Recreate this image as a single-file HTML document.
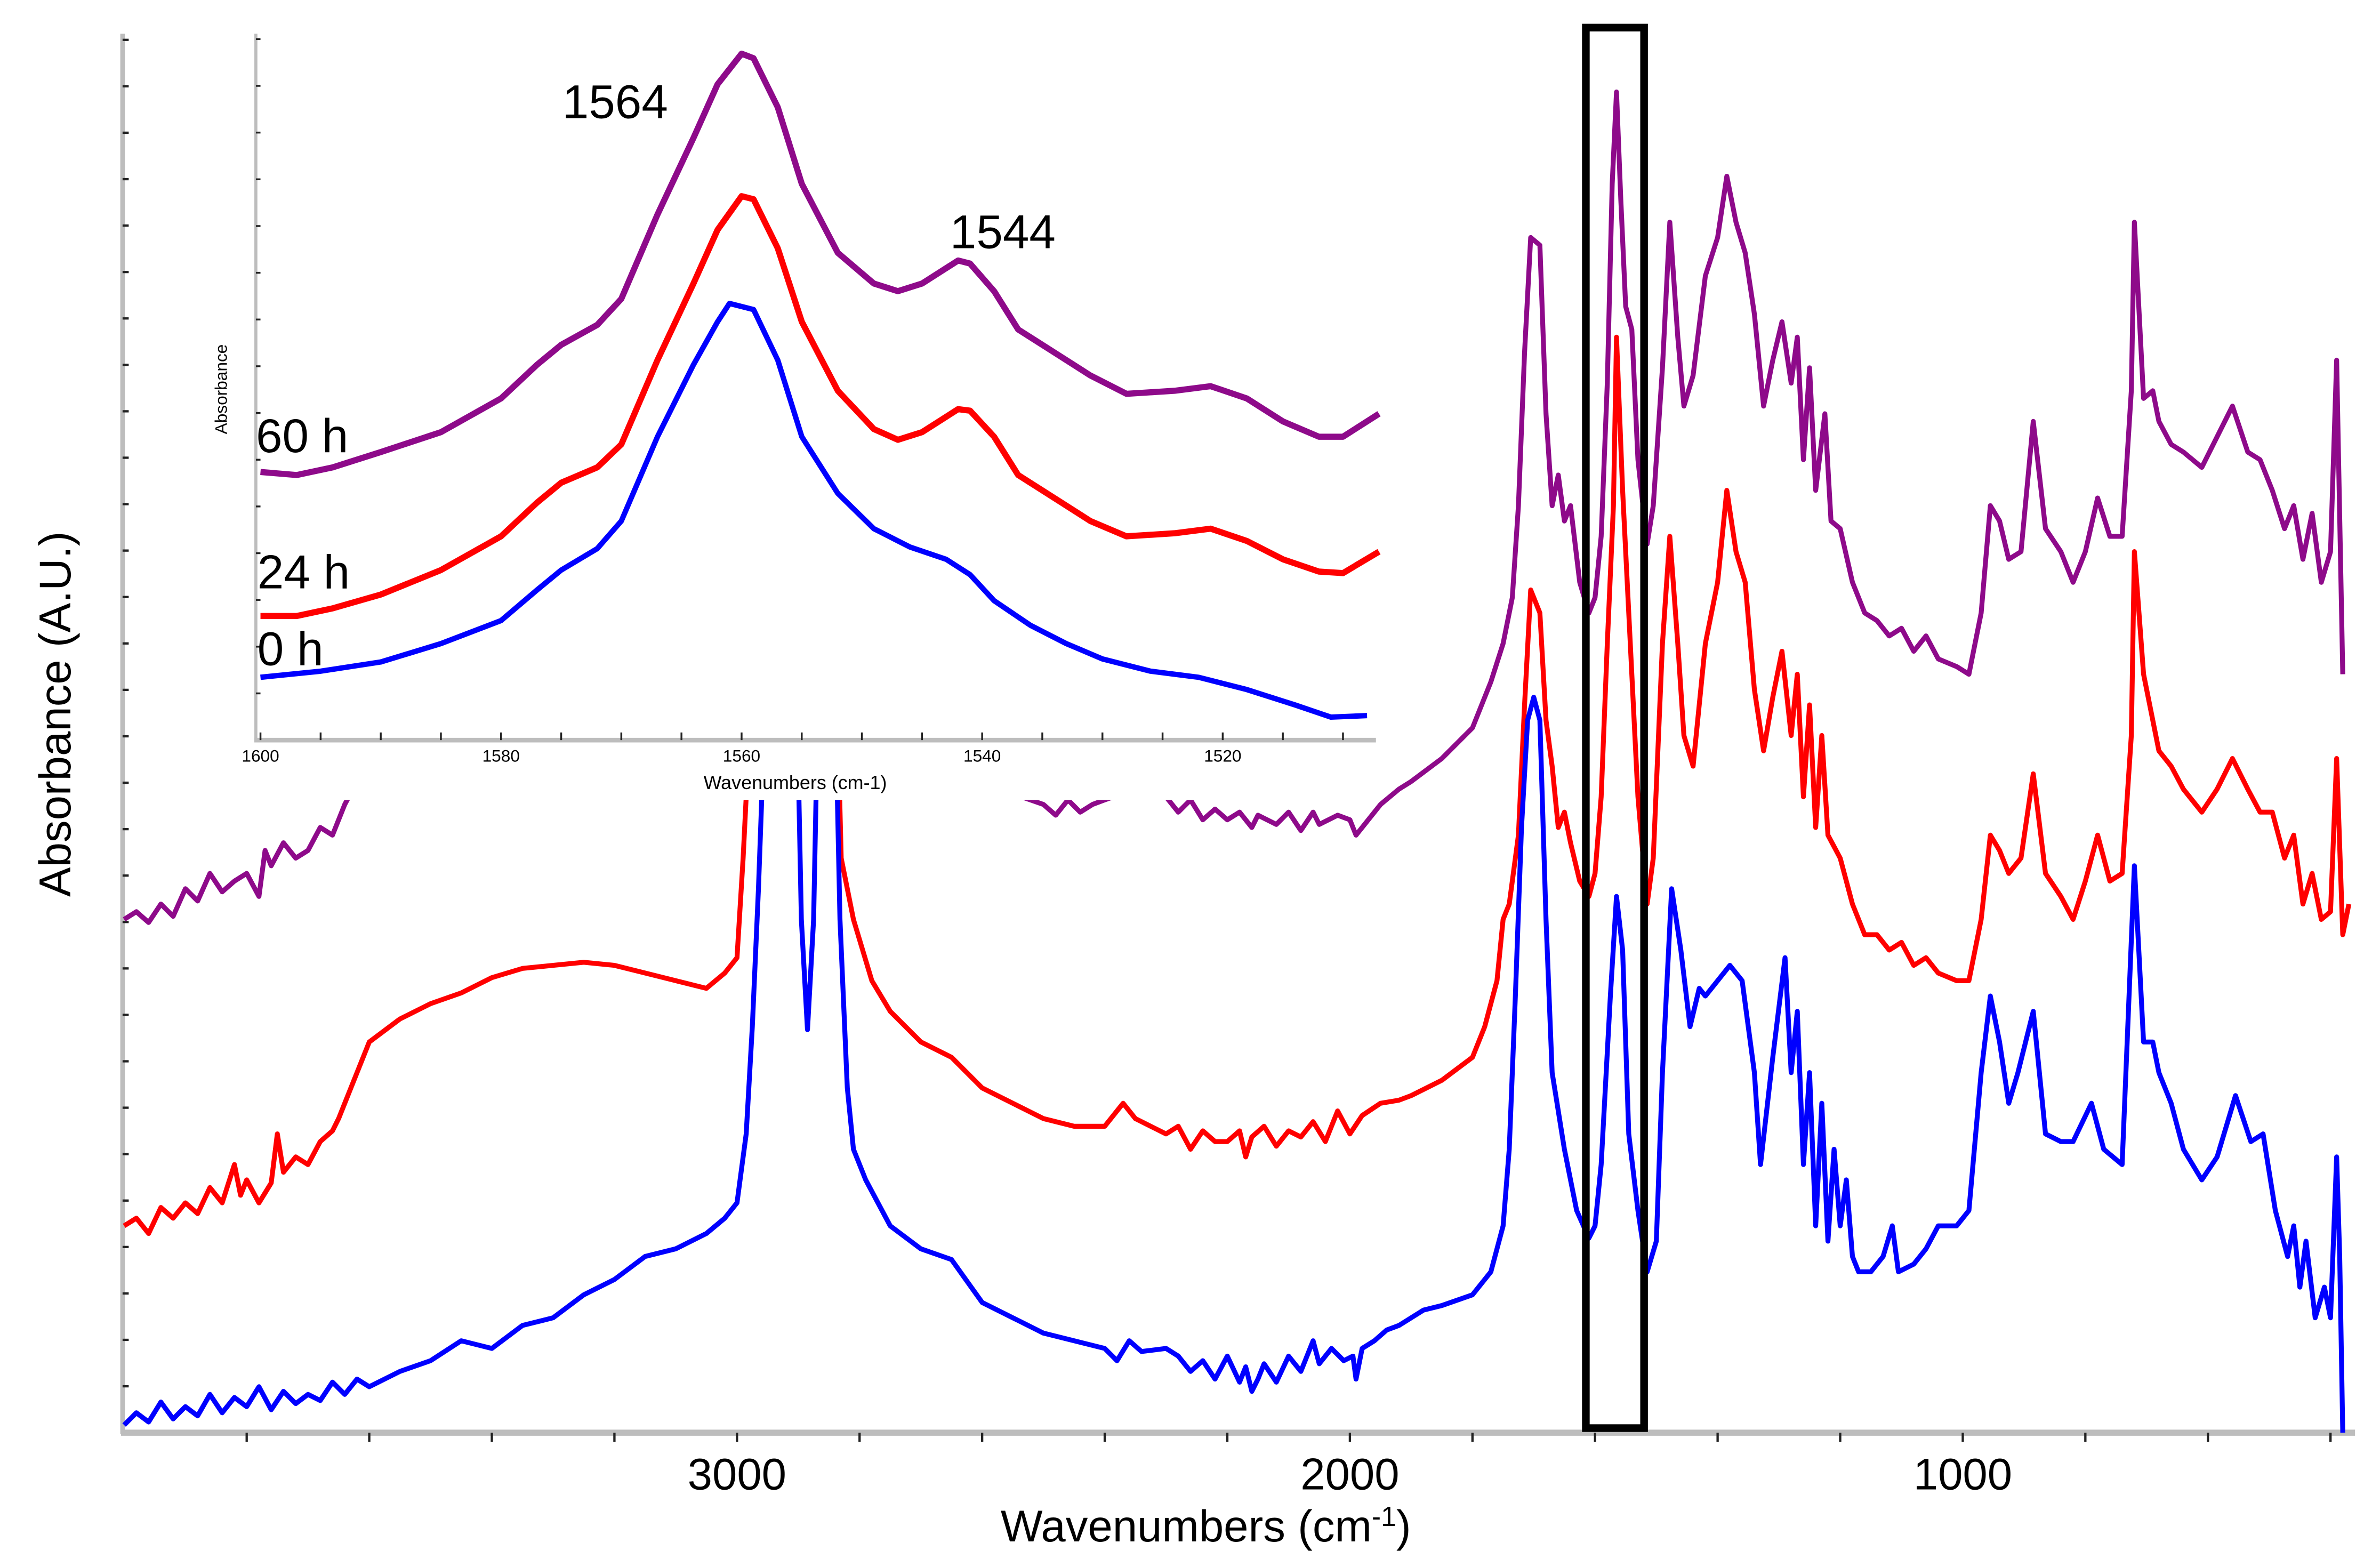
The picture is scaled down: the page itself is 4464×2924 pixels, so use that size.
<!DOCTYPE html>
<html><head><meta charset="utf-8">
<style>
html,body{margin:0;padding:0;background:#fff;}
svg{display:block;}
text{font-family:"Liberation Sans",sans-serif;}
</style></head>
<body>
<svg id="chart" xmlns="http://www.w3.org/2000/svg" width="4464" height="2924" viewBox="0 0 1553.3 1017.4">
<rect x="0" y="0" width="1553.3" height="1017.4" fill="#fff"/>
<g id="main"></g>
<g id="inset"></g>
</svg>
<script>
// ---- main spectrum data: [wavenumber, absorbance (arb. units)] ----
const mainTicks = [3000, 2000, 1000];
const insetTicks = [1600, 1580, 1560, 1540, 1520];
const blueMain = [[4000,70],[3980,78],[3960,72],[3940,85],[3920,74],[3900,82],[3880,76],[3860,90],[3840,78],[3820,88],[3800,82],[3780,95],[3760,80],[3740,92],[3720,84],[3700,90],[3680,86],[3660,98],[3640,90],[3620,100],[3600,95],[3550,105],[3500,112],[3450,125],[3400,120],[3350,135],[3300,140],[3250,155],[3200,165],[3150,180],[3100,185],[3050,195],[3020,205],[3000,215],[2985,260],[2975,330],[2965,420],[2955,530],[2945,560],[2925,700],[2905,600],[2895,400],[2885,328],[2875,400],[2865,600],[2852,700],[2840,550],[2832,400],[2820,290],[2810,250],[2790,230],[2750,200],[2700,185],[2650,178],[2600,150],[2550,140],[2500,130],[2450,125],[2400,120],[2380,112],[2360,125],[2340,118],[2300,120],[2280,115],[2260,105],[2240,112],[2220,100],[2200,115],[2180,98],[2170,108],[2160,92],[2150,100],[2140,110],[2120,98],[2100,115],[2080,105],[2060,125],[2050,110],[2030,120],[2010,112],[1995,115],[1990,100],[1980,120],[1960,125],[1940,132],[1920,135],[1900,140],[1880,145],[1850,148],[1800,155],[1770,170],[1750,200],[1740,250],[1730,350],[1720,460],[1710,530],[1700,545],[1690,530],[1680,400],[1670,300],[1650,250],[1630,210],[1610,192],[1600,200],[1590,240],[1575,350],[1565,415],[1555,380],[1545,260],[1530,210],[1515,170],[1500,190],[1490,300],[1475,420],[1460,380],[1445,330],[1430,355],[1420,350],[1400,360],[1380,370],[1360,360],[1340,300],[1330,240],[1310,310],[1290,375],[1280,300],[1270,340],[1260,240],[1250,300],[1240,200],[1230,280],[1220,190],[1210,250],[1200,200],[1190,230],[1180,180],[1170,170],[1150,170],[1130,180],[1115,200],[1105,170],[1080,175],[1060,185],[1040,200],[1010,200],[990,210],[970,300],[955,350],[940,320],[925,280],[910,300],[885,340],[865,260],[840,255],[820,255],[790,280],[770,250],[740,240],[720,435],[705,320],[690,320],[680,300],[660,280],[640,250],[610,230],[585,245],[555,285],[530,255],[510,260],[490,210],[470,180],[460,200],[450,160],[440,190],[425,140],[410,160],[400,140],[390,245],[385,180],[380,65]];
const redMain = [[4000,200],[3980,205],[3960,195],[3940,212],[3920,205],[3900,215],[3880,208],[3860,225],[3840,215],[3820,240],[3810,220],[3800,230],[3780,215],[3760,228],[3750,260],[3740,235],[3720,245],[3700,240],[3680,255],[3660,262],[3650,270],[3640,280],[3620,300],[3600,320],[3550,335],[3500,345],[3450,352],[3400,362],[3350,368],[3300,370],[3250,372],[3200,370],[3150,365],[3100,360],[3050,355],[3020,365],[3000,375],[2990,440],[2980,520],[2970,600],[2840,600],[2830,440],[2810,400],[2780,360],[2750,340],[2700,320],[2650,310],[2600,290],[2550,280],[2500,270],[2450,265],[2400,265],[2370,280],[2350,270],[2300,260],[2280,265],[2260,250],[2240,262],[2220,255],[2200,255],[2180,262],[2170,245],[2160,258],[2140,265],[2120,252],[2100,262],[2080,258],[2060,268],[2040,255],[2020,275],[2000,260],[1980,272],[1950,280],[1920,282],[1900,285],[1850,295],[1800,310],[1780,330],[1760,360],[1750,400],[1740,410],[1725,455],[1715,540],[1705,615],[1690,600],[1680,530],[1670,500],[1660,460],[1650,470],[1640,450],[1625,425],[1610,415],[1600,430],[1590,480],[1580,580],[1570,670],[1565,780],[1555,680],[1545,600],[1530,480],[1515,410],[1505,440],[1490,580],[1478,650],[1465,580],[1455,520],[1440,500],[1420,580],[1400,620],[1385,680],[1370,640],[1355,620],[1340,550],[1325,510],[1310,545],[1295,575],[1280,520],[1270,560],[1260,480],[1250,540],[1240,460],[1230,520],[1220,455],[1200,440],[1180,410],[1160,390],[1140,390],[1120,380],[1100,385],[1080,370],[1060,375],[1040,365],[1010,360],[990,360],[970,400],[955,455],[940,445],[925,430],[905,440],[885,495],[865,430],[840,415],[820,400],[800,425],[780,455],[760,425],[740,430],[725,520],[720,640],[705,560],[690,530],[680,510],[660,500],[640,485],[610,470],[585,485],[560,505],[535,485],[515,470],[495,470],[475,440],[460,455],[445,410],[430,430],[415,400],[400,405],[390,505],[380,390],[370,410]];
const purpleMain = [[4000,400],[3980,405],[3960,398],[3940,410],[3920,402],[3900,420],[3880,412],[3860,430],[3840,418],[3820,425],[3800,430],[3780,415],[3770,445],[3760,435],[3740,450],[3720,440],[3700,445],[3680,460],[3660,455],[3640,475],[3620,490],[3600,510],[3500,540],[3000,560],[2700,490],[2550,482],[2500,475],[2480,468],[2460,478],[2440,470],[2420,475],[2400,478],[2350,485],[2300,480],[2280,470],[2260,478],[2240,465],[2220,472],[2200,465],[2180,470],[2160,460],[2150,468],[2120,462],[2100,470],[2080,458],[2060,470],[2050,462],[2020,468],[2000,465],[1990,455],[1980,460],[1960,470],[1950,475],[1920,485],[1900,490],[1850,505],[1800,525],[1770,555],[1750,580],[1735,610],[1725,670],[1715,770],[1705,845],[1690,840],[1680,730],[1670,670],[1660,690],[1650,660],[1640,670],[1625,620],[1610,600],[1600,610],[1590,650],[1580,750],[1572,880],[1565,940],[1558,870],[1550,800],[1540,785],[1530,700],[1515,645],[1505,670],[1490,760],[1478,855],[1465,780],[1455,735],[1440,755],[1420,820],[1400,845],[1385,885],[1370,855],[1355,835],[1340,795],[1325,735],[1310,765],[1295,790],[1280,750],[1270,780],[1260,700],[1250,760],[1240,680],[1225,730],[1215,660],[1200,655],[1180,620],[1160,600],[1140,595],[1120,585],[1100,590],[1080,575],[1060,585],[1040,570],[1010,565],[990,560],[970,600],[955,670],[940,660],[925,635],[905,640],[885,725],[865,655],[840,640],[820,620],[800,640],[780,675],[760,650],[740,650],[725,745],[720,855],[705,740],[690,745],[680,725],[660,710],[640,705],[610,695],[585,715],[560,735],[535,705],[515,700],[495,680],[475,655],[460,670],[445,635],[430,665],[415,620],[400,640],[390,765],[380,560]];
// ---- inset data ----
const purpleInset = [[1600,192],[1597,190],[1594,195],[1590,205],[1585,218],[1580,240],[1577,262],[1575,275],[1572,288],[1570,305],[1567,360],[1564,410],[1562,445],[1560,465],[1559,462],[1557,430],[1555,380],[1552,335],[1549,315],[1547,310],[1545,315],[1542,330],[1541,328],[1539,310],[1537,285],[1534,270],[1531,255],[1528,243],[1524,245],[1521,248],[1518,240],[1515,225],[1512,215],[1510,215],[1507,230]];
const redInset = [[1600,98],[1597,98],[1594,103],[1590,112],[1585,128],[1580,150],[1577,172],[1575,185],[1572,195],[1570,210],[1567,265],[1564,315],[1562,350],[1560,372],[1559,370],[1557,338],[1555,290],[1552,245],[1549,220],[1547,213],[1545,218],[1542,233],[1541,232],[1539,215],[1537,190],[1534,175],[1531,160],[1528,150],[1524,152],[1521,155],[1518,147],[1515,135],[1512,127],[1510,126],[1507,140]];
const blueInset = [[1600,58],[1595,62],[1590,68],[1585,80],[1580,95],[1577,115],[1575,128],[1572,142],[1570,160],[1567,215],[1564,262],[1562,290],[1561,302],[1559,298],[1557,265],[1555,215],[1552,178],[1549,155],[1546,143],[1543,135],[1541,125],[1539,108],[1536,92],[1533,80],[1530,70],[1526,62],[1522,58],[1518,50],[1514,40],[1511,32],[1508,33]];

const NS = 'http://www.w3.org/2000/svg';
function mk(parent, tag, attrs, txt){
  const e = document.createElementNS(NS, tag);
  for (const k in attrs) e.setAttribute(k, attrs[k]);
  if (txt !== undefined) e.textContent = txt;
  parent.appendChild(e); return e;
}
const xMain = w => 481 + (3000 - w) * 0.4;
const yMain = v => 1000 - v;
const xIn = w => 170 + (1600 - w) * 7.85;
const yIn = v => 500 - v;

const main = document.getElementById('main');
const inset = document.getElementById('inset');

// main axes
const la = mk(main,'line',{x1:80,y1:22,x2:80,y2:936,stroke:'#bdbdbd','stroke-width':3});


for (let y=935; y>25; y-=30.3){ const t=mk(main,'line',{x1:80,y1:y,x2:84,y2:y,stroke:'#222','stroke-width':1.5});   }
const ba = mk(main,'line',{x1:79,y1:935,x2:1537,y2:935,stroke:'#bdbdbd','stroke-width':4});


for (let w=3800; w>=400; w-=200){ const t=mk(main,'line',{x1:xMain(w),y1:935,x2:xMain(w),y2:941,stroke:'#222','stroke-width':1.5});   }
mainTicks.forEach(w=>{
  const t = mk(main,'text',{x:xMain(w),y:972,'font-size':29,'text-anchor':'middle',fill:'#000'}, String(w));
  
  
});
const xt = mk(main,'text',{x:787,y:1006,'font-size':29,'text-anchor':'middle',fill:'#000'});


xt.innerHTML = 'Wavenumbers (cm<tspan baseline-shift="super" font-size="18">-1</tspan>)';
const yt = mk(main,'text',{x:0,y:0,'font-size':29,'text-anchor':'middle',fill:'#000',transform:'translate(46,466) rotate(-90)'},'Absorbance (A.U.)');



function series(parent, data, xf, yf, color, width, name){
  const d = data.map((p,i)=>(i?'L':'M')+xf(p[0]).toFixed(1)+','+yf(p[1]).toFixed(1)).join(' ');
  const p = mk(parent,'path',{d:d,fill:'none',stroke:color,'stroke-width':width,'stroke-linejoin':'round'});
  
  
}
series(main, purpleMain, xMain, yMain, '#8e0a8a', 3.2, 'series-60h');
series(main, redMain, xMain, yMain, '#ff0000', 3.2, 'series-24h');
series(main, blueMain, xMain, yMain, '#0000ff', 3.2, 'series-0h');

const box = mk(main,'rect',{x:1035,y:18,width:38,height:914,fill:'none',stroke:'#000','stroke-width':5});



// inset
const bg = mk(inset,'rect',{x:128,y:0,width:774,height:522,fill:'#fff'});


const ila = mk(inset,'line',{x1:167,y1:22,x2:167,y2:484,stroke:'#bdbdbd','stroke-width':2});


for (let y=483; y>25; y-=30.5){ const t=mk(inset,'line',{x1:167,y1:y,x2:170,y2:y,stroke:'#222','stroke-width':1.2});   }
const iba = mk(inset,'line',{x1:166,y1:483,x2:898,y2:483,stroke:'#bdbdbd','stroke-width':3});


for (let w=1600; w>=1510; w-=5){ const t=mk(inset,'line',{x1:xIn(w),y1:483,x2:xIn(w),y2:478,stroke:'#222','stroke-width':1.2});   }
insetTicks.forEach(w=>{
  const t = mk(inset,'text',{x:xIn(w),y:497,'font-size':11,'text-anchor':'middle',fill:'#000'}, String(w));
  
  
});
const ixt = mk(inset,'text',{x:519,y:515,'font-size':12.5,'text-anchor':'middle',fill:'#000'},'Wavenumbers (cm-1)');


const iyt = mk(inset,'text',{x:0,y:0,'font-size':11,'text-anchor':'middle',fill:'#000',transform:'translate(148,254) rotate(-90)'},'Absorbance');



series(inset, purpleInset, xIn, yIn, '#8e0a8a', 4, 'inset-series-60h');
series(inset, redInset, xIn, yIn, '#ff0000', 4, 'inset-series-24h');
series(inset, blueInset, xIn, yIn, '#0000ff', 3.5, 'inset-series-0h');

const labels = [['1564',367,77,'peak-label-1564'],['1544',620,162,'peak-label-1544'],['60 h',167,295,'label-60h'],['24 h',168,384,'label-24h'],['0 h',168,434,'label-0h']];
labels.forEach(l=>{
  const t = mk(inset,'text',{x:l[1],y:l[2],'font-size':31,fill:'#000'}, l[0]);
  
  
});
</script>
</body></html>
